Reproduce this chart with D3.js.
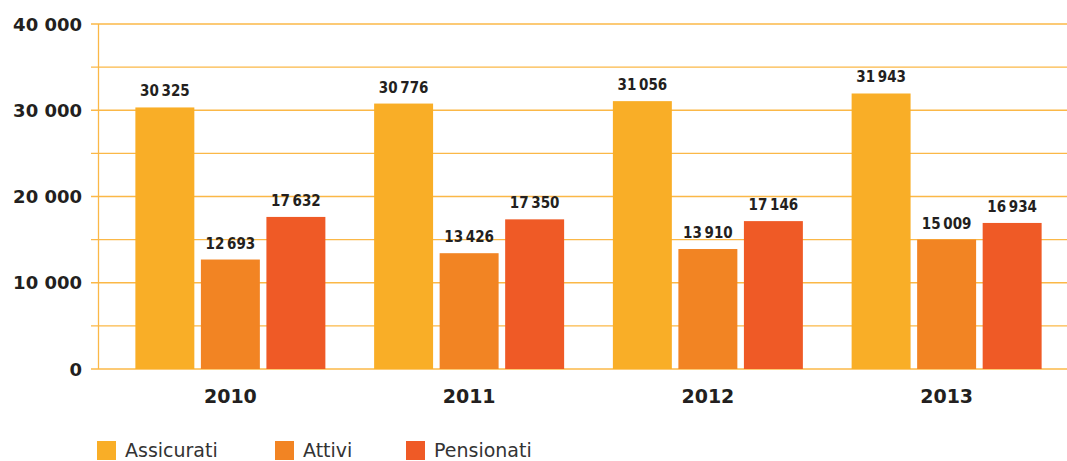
<!DOCTYPE html>
<html>
<head>
<meta charset="utf-8">
<script src="https://cdn.jsdelivr.net/npm/d3@7"></script>
<style>
  body { margin: 0; background: #fff; }
  svg { display: block; }
</style>
</head>
<body>
<div id="chart"></div>
<script>
// data
var years = ["2010", "2011", "2012", "2013"];
var series = ["Assicurati", "Attivi", "Pensionati"];
var assicurati = [30325, 30776, 31056, 31943];
var attivi = [12693, 13426, 13910, 15009];
var pensionati = [17632, 17350, 17146, 16934];
var yTicks = [0, 10000, 20000, 30000, 40000];
var gridTicks = [0, 5000, 10000, 15000, 20000, 25000, 30000, 35000, 40000];

var colors = ["#f9ae27", "#f28423", "#ef5a26"];
var values = [assicurati, attivi, pensionati];

var width = 1067, height = 461;

var svg = d3.select("#chart").append("svg")
    .attr("width", width)
    .attr("height", height);

var yScale = d3.scaleLinear()
    .domain([0, 40000])
    .range([369, 24]);

var xScale = d3.scaleBand()
    .domain(years)
    .range([111, 1066]);

var xInner = d3.scaleBand()
    .domain(series)
    .range([-95, 95])
    .paddingInner(0.1);

// grid lines
svg.append("g").selectAll("line")
    .data(gridTicks)
    .enter().append("line")
    .attr("x1", 91)
    .attr("x2", width)
    .attr("y1", function(d) { return yScale(d); })
    .attr("y2", function(d) { return yScale(d); })
    .attr("stroke", "#fbb847")
    .attr("stroke-width", 1.3);

// vertical axis line
svg.append("line")
    .attr("x1", 98.5).attr("x2", 98.5)
    .attr("y1", yScale(40000)).attr("y2", yScale(0))
    .attr("stroke", "#fbb847")
    .attr("stroke-width", 1.3);

var tickFmt = d3.formatLocale({decimal: ",", thousands: " ", grouping: [3], currency: ["", ""]}).format(",d");
var labelFmt = d3.formatLocale({decimal: ",", thousands: "\u2009", grouping: [3], currency: ["", ""]}).format(",d");

// y tick labels
svg.append("g").selectAll("text")
    .data(yTicks)
    .enter().append("text")
    .attr("x", 82)
    .attr("y", function(d) { return yScale(d) + 6.5; })
    .attr("text-anchor", "end")
    .style("font-family", "DejaVu Sans, sans-serif")
    .style("font-weight", "bold")
    .style("font-size", "18px")
    .style("fill", "#231f20")
    .text(function(d) { return tickFmt(d); });

// bars
var groups = svg.selectAll(".year")
    .data(years)
    .enter().append("g")
    .attr("class", "year")
    .attr("transform", function(d) { return "translate(" + (xScale(d) + xScale.bandwidth() / 2) + ",0)"; });

function rows(d, i) {
    return series.map(function(s, j) { return {key: s, idx: j, value: values[j][i]}; });
}

groups.selectAll("rect")
    .data(rows)
    .enter().append("rect")
    .attr("x", function(d) { return xInner(d.key); })
    .attr("width", xInner.bandwidth())
    .attr("y", function(d) { return yScale(d.value); })
    .attr("height", function(d) { return yScale(0) - yScale(d.value); })
    .style("fill", function(d) { return colors[d.idx]; });

groups.selectAll("text.val")
    .data(rows)
    .enter().append("text")
    .attr("class", "val")
    .attr("x", function(d) { return xInner(d.key) + xInner.bandwidth() / 2; })
    .attr("y", function(d) { return yScale(d.value) - 11; })
    .attr("text-anchor", "middle")
    .style("font-family", "DejaVu Sans Condensed, DejaVu Sans, sans-serif")
    .style("font-stretch", "condensed")
    .style("font-weight", "bold")
    .style("font-size", "15px")
    .style("fill", "#231f20")
    .text(function(d) { return labelFmt(d.value); });

// year labels
groups.append("text")
    .attr("x", 0)
    .attr("y", 403)
    .attr("text-anchor", "middle")
    .style("font-family", "DejaVu Sans, sans-serif")
    .style("font-weight", "bold")
    .style("font-size", "19px")
    .style("fill", "#231f20")
    .text(function(d) { return d; });

// legend
var legendX = [97, 275, 406];
var legend = svg.selectAll(".legend")
    .data(series)
    .enter().append("g")
    .attr("class", "legend")
    .attr("transform", function(d, i) { return "translate(" + legendX[i] + ",441)"; });

legend.append("rect")
    .attr("width", 19)
    .attr("height", 19)
    .style("fill", function(d, i) { return colors[i]; });

legend.append("text")
    .attr("x", 28)
    .attr("y", 16)
    .style("font-family", "DejaVu Sans, sans-serif")
    .style("font-size", "19px")
    .style("fill", "#333")
    .text(function(d) { return d; });
</script>
</body>
</html>
